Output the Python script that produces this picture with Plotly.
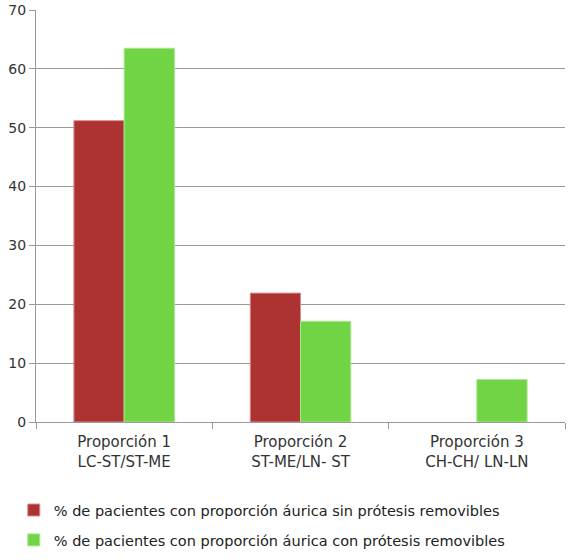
import plotly.graph_objects as go

categorias = ["Proporción 1<br>LC-ST/ST-ME", "Proporción 2<br>ST-ME/LN- ST", "Proporción 3<br>CH-CH/ LN-LN"]
sin_protesis = [51.2, 21.9, 0]
con_protesis = [63.5, 17.1, 7.2]
nombres = ["% de pacientes con proporción áurica sin prótesis removibles",
           "% de pacientes con proporción áurica con prótesis removibles"]

fig = go.Figure()
fig.add_trace(go.Bar(x=categorias, y=sin_protesis, name=nombres[0], legendgroup="a",
                     marker=dict(color="#AD3333", line=dict(color="#D98C8C", width=[1, 1, 0]))))
fig.add_trace(go.Bar(x=categorias, y=con_protesis, name=nombres[1], legendgroup="b",
                     marker=dict(color="#70D444", line=dict(color="#A6E88A", width=1))))

fig.update_layout(
    width=569, height=560,
    margin=dict(l=36, r=4, t=10, b=132),
    barmode="group", bargap=0.43, bargroupgap=0,
    plot_bgcolor="white", paper_bgcolor="white",
    font=dict(family="DejaVu Sans", size=14, color="#333333"),
    legend=dict(orientation="v", x=-0.042, xanchor="left", y=-0.175, yanchor="top",
                font=dict(size=14.5, color="#222222"), tracegroupgap=8),
)
fig.update_xaxes(showline=True, linecolor="#999999", ticks="outside", tickson="boundaries",
                 ticklen=6, tickcolor="#999999", showgrid=False, tickfont=dict(size=15),
                 ticklabelstandoff=6, automargin=False)
fig.update_yaxes(range=[0, 70], dtick=10, showline=True, linecolor="#999999", ticks="outside",
                 ticklen=6, tickcolor="#999999", gridcolor="#999999", zeroline=False,
                 tickfont=dict(size=14), automargin=False)

# quitar el margen de 8px del body para que la figura quede en (0,0)
fig.write_html("out.html", config={"displayModeBar": False},
               post_script="document.body.style.margin='0';")
